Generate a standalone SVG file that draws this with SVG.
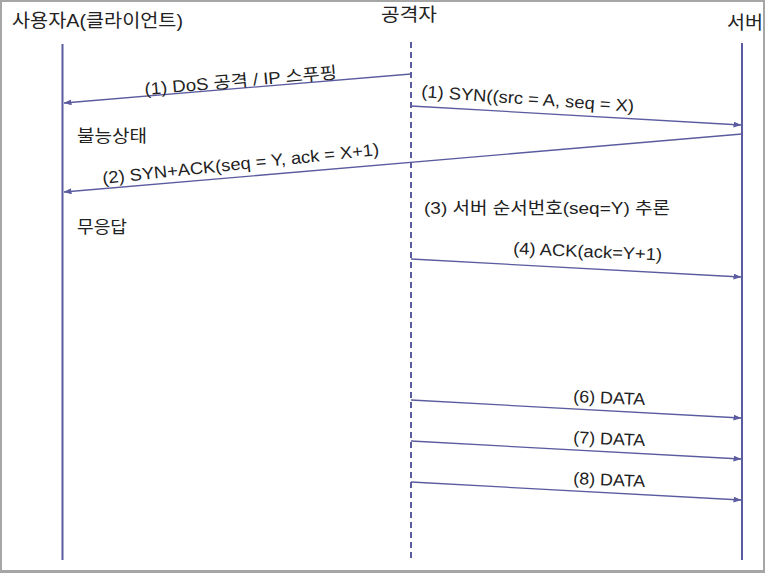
<svg xmlns="http://www.w3.org/2000/svg" width="765" height="573" viewBox="0 0 765 573">
<style>
text{font-family:"Liberation Sans","Noto Sans CJK KR",sans-serif;font-size:17px;fill:#222}
.hd{font-size:18px}
.life{stroke:#5b5ba0;stroke-width:2;fill:none}
.msg{stroke:#5b5ba0;stroke-width:1.3;fill:none;marker-end:url(#ah)}
</style>
<defs>
<marker id="ah" markerWidth="8" markerHeight="6" refX="7.5" refY="3" orient="auto" markerUnits="userSpaceOnUse">
<path d="M0,0 L8,3 L0,6 z" fill="#5b5ba0"/>
</marker>
</defs>
<rect x="1" y="1" width="763" height="570" fill="#fff" stroke="#a6a6a6" stroke-width="2"/>
<rect x="0" y="570" width="765" height="3" fill="#a6a6a6"/>
<g id="client">
<text class="hd" x="12" y="27" textLength="171" lengthAdjust="spacingAndGlyphs">사용자A(클라이언트)</text>
<line class="life" x1="62.5" y1="44" x2="62.5" y2="560"/>
</g>
<g id="attacker">
<text class="hd" x="381" y="21" textLength="56" lengthAdjust="spacingAndGlyphs">공격자</text>
<line class="life" x1="411" y1="42" x2="411" y2="560" stroke-dasharray="6,4"/>
</g>
<g id="server">
<text class="hd" x="727" y="29" textLength="36" lengthAdjust="spacingAndGlyphs">서버</text>
<line class="life" x1="742" y1="43" x2="742" y2="560"/>
</g>
<g id="notes">
<text x="77" y="142" textLength="70" lengthAdjust="spacingAndGlyphs">불능상태</text>
<text x="77" y="233" textLength="50" lengthAdjust="spacingAndGlyphs">무응답</text>
<text x="424" y="214" textLength="246" lengthAdjust="spacingAndGlyphs">(3) 서버 순서번호(seq=Y) 추론</text>
</g>
<g id="connectors">
<line class="msg" x1="411" y1="74" x2="64" y2="103"/>
<line class="msg" x1="411" y1="106" x2="741" y2="125"/>
<line class="msg" x1="742" y1="134" x2="64" y2="192"/>
<line class="msg" x1="411" y1="259" x2="741" y2="277"/>
<line class="msg" x1="411" y1="400" x2="741" y2="418"/>
<line class="msg" x1="411" y1="441" x2="741" y2="459"/>
<line class="msg" x1="411" y1="482" x2="741" y2="500"/>
</g>
<g id="labels">
<text transform="translate(145,95) rotate(-5)" textLength="193" lengthAdjust="spacingAndGlyphs">(1) DoS 공격 / IP 스푸핑</text>
<text transform="translate(421,97) rotate(4)" textLength="213" lengthAdjust="spacingAndGlyphs">(1) SYN((src = A, seq = X)</text>
<text transform="translate(103,184) rotate(-6)" textLength="278" lengthAdjust="spacingAndGlyphs">(2) SYN+ACK(seq = Y, ack = X+1)</text>
<text transform="translate(513,254) rotate(2.5)" textLength="149" lengthAdjust="spacingAndGlyphs">(4) ACK(ack=Y+1)</text>
<text transform="translate(573,402) rotate(2.5)" textLength="72" lengthAdjust="spacingAndGlyphs">(6) DATA</text>
<text transform="translate(573,443) rotate(2.5)" textLength="72" lengthAdjust="spacingAndGlyphs">(7) DATA</text>
<text transform="translate(573,484) rotate(2.5)" textLength="72" lengthAdjust="spacingAndGlyphs">(8) DATA</text>
</g>
</svg>
